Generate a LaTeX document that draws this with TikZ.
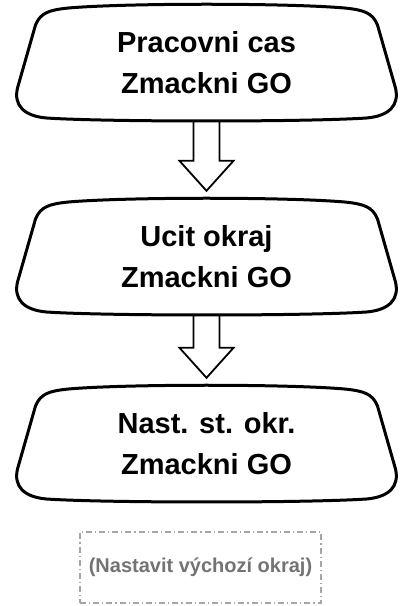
\documentclass[tikz,border=0pt]{standalone}
\usepackage{fontspec}
\setmainfont{Liberation Sans}
\usetikzlibrary{calc}
\tikzset{
  stepnode/.style={align=center,minimum height=118pt,inner sep=0pt,
    font=\bfseries\fontsize{29}{41}\selectfont},
  mirrorline/.style={line width=3pt,line join=round},
  hollow/.style={line width=1.8pt,line join=miter},
  notebox/.style={draw=black!35,line width=1.5pt,dash pattern=on 6pt off 3pt on 1.2pt off 3pt,
    minimum width=241pt,minimum height=71pt,text=black!55,
    font=\bfseries\fontsize{20}{22}\selectfont}
}
% outline of one step, round its node
\newcommand{\mirror}[1]{%
  \draw[mirrorline,shift={(#1.center)}] (-171,38) -- (-189,-25)
    .. controls (-193,-42) and (-183,-53) .. (-160,-55)
    .. controls (-100,-59) and (100,-59) .. (160,-55)
    .. controls (183,-53) and (193,-42) .. (189,-25) -- (171,38)
    .. controls (166,50) and (158,53) .. (138,55)
    .. controls (80,60) and (-80,60) .. (-138,55)
    .. controls (-158,53) and (-166,50) .. (-171,38) -- cycle;}
% hollow arrow from one step to the next
\newcommand{\hollowarrow}[2]{%
  \draw[hollow] ($(#1.south)+(-13,0)$) -- ($(#2.north)+(-13,37)$) -- ($(#2.north)+(-27,37)$)
    -- ($(#2.north)+(0,7)$) -- ($(#2.north)+(27,37)$) -- ($(#2.north)+(13,37)$) -- ($(#1.south)+(13,0)$);}
\begin{document}
\begin{tikzpicture}[x=1pt,y=1pt]
  \useasboundingbox (0,0) rectangle (413,606);
  \node[stepnode] (pracovni) at (206.5,543) {Pracovni cas\\Zmackni GO};
  \node[stepnode] (ucit) at (206.5,349) {Ucit okraj\\Zmackni GO};
  \node[stepnode] (nast) at (206.5,162) {Nast. st. okr.\\Zmackni GO};
  \foreach \n in {pracovni,ucit,nast}
    \mirror{\n};
  \hollowarrow{pracovni}{ucit}
  \hollowarrow{ucit}{nast}
  \node[notebox] (vychozi) at (200.5,38.5) {(Nastavit výchozí okraj)};
\end{tikzpicture}
\end{document}
